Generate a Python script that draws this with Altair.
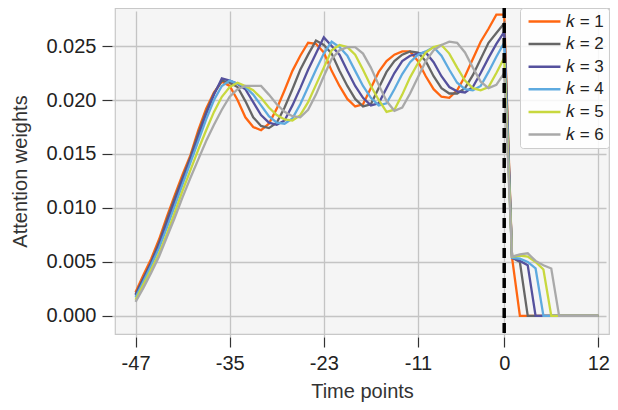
import altair as alt
import pandas as pd

# time points
t_vals = list(range(-47, 13))
tick_x = [-47, -35, -23, -11, 0, 12]
tick_y = [0.000, 0.005, 0.010, 0.015, 0.020, 0.025]
labels = ["𝑘 = 1", "𝑘 = 2", "𝑘 = 3", "𝑘 = 4", "𝑘 = 5", "𝑘 = 6"]
colors = ["#ff6611", "#666666", "#55519d", "#5eaadf", "#c8d83e", "#a9a9a9"]

k1 = [.0022, .0038, .0053, .0071, .0092, .0112, .0131, .0149, .0172, .0192,
      .0207, .0217, .0213, .0200, .0184, .0175, .0172, .0178, .0192, .0209,
      .0227, .0241, .0253, .0252, .0244, .0227, .0213, .0201, .0194, .0196,
      .0211, .0226, .0236, .0242, .0245, .0245, .0236, .0222, .0210, .0203,
      .0202, .0209, .0222, .0238, .0254, .0266, .0279, .0279,
      .0054, 0, 0, 0, 0, 0, 0, 0, 0, 0, 0, 0]
k2 = [.0020, .0035, .0050, .0068, .0089, .0109, .0128, .0147, .0169, .0189,
      .0206, .0218, .0216, .0212, .0199, .0184, .0176, .0174, .0179, .0193,
      .0210, .0228, .0242, .0255, .0251, .0243, .0227, .0213, .0201, .0194,
      .0196, .0211, .0226, .0236, .0242, .0245, .0244, .0236, .0222, .0211,
      .0206, .0206, .0211, .0223, .0238, .0253, .0262, .0271,
      .0054, .0050, 0, 0, 0, 0, 0, 0, 0, 0, 0, 0]
k3 = [.0019, .0034, .0049, .0066, .0086, .0106, .0126, .0145, .0166, .0187,
      .0205, .0220, .0218, .0215, .0210, .0198, .0186, .0179, .0177, .0181,
      .0195, .0211, .0228, .0243, .0258, .0250, .0242, .0227, .0213, .0202,
      .0195, .0197, .0211, .0225, .0236, .0241, .0243, .0244, .0235, .0222,
      .0212, .0208, .0207, .0212, .0225, .0239, .0252, .0263,
      .0054, .0051, .0047, 0, 0, 0, 0, 0, 0, 0, 0, 0]
k4 = [.0017, .0032, .0047, .0063, .0082, .0102, .0122, .0142, .0162, .0182,
      .0200, .0213, .0218, .0215, .0212, .0205, .0195, .0185, .0179, .0178,
      .0183, .0196, .0212, .0228, .0243, .0254, .0249, .0241, .0227, .0213,
      .0202, .0195, .0197, .0210, .0224, .0235, .0242, .0245, .0249, .0241,
      .0228, .0216, .0210, .0209, .0213, .0226, .0240, .0253,
      .0054, .0053, .0050, .0044, 0, 0, 0, 0, 0, 0, 0, 0]
k5 = [.0015, .0029, .0043, .0058, .0076, .0096, .0116, .0135, .0154, .0172,
      .0189, .0203, .0212, .0216, .0213, .0209, .0202, .0193, .0186, .0182,
      .0181, .0186, .0198, .0214, .0230, .0246, .0251, .0249, .0242, .0228,
      .0213, .0200, .0189, .0191, .0205, .0221, .0234, .0244, .0249, .0251,
      .0243, .0230, .0218, .0211, .0209, .0212, .0225, .0239,
      .0055, .0056, .0055, .0050, .0043, 0, 0, 0, 0, 0, 0, 0]
k6 = [.0013, .0026, .0040, .0055, .0073, .0091, .0110, .0128, .0145, .0162,
      .0177, .0191, .0203, .0210, .0213, .0213, .0213, .0205, .0196, .0189,
      .0185, .0184, .0191, .0205, .0222, .0238, .0246, .0249, .0249, .0243,
      .0230, .0214, .0199, .0190, .0193, .0206, .0221, .0236, .0246, .0251,
      .0254, .0253, .0244, .0230, .0217, .0211, .0214, .0225,
      .0055, .0057, .0058, .0051, .0047, .0044, 0, 0, 0, 0, 0, 0]

series = [k1, k2, k3, k4, k5, k6]
rows = []
for lab, vals in zip(labels, series):
    for t, v in zip(t_vals, vals):
        rows.append({"t": t, "w": v, "k": lab})
df = pd.DataFrame(rows)

FONT = "Liberation Sans"

xscale = alt.Scale(domain=[-49.62, 13.36], nice=False, zero=False)
yscale = alt.Scale(domain=[-0.00167, 0.02852], nice=False, zero=False)

lines = alt.Chart(df).mark_line(strokeWidth=2.3, clip=True).encode(
    x=alt.X("t:Q", scale=xscale,
            axis=alt.Axis(values=tick_x, title="Time points",
                          labelExpr="datum.value + ''")),
    y=alt.Y("w:Q", scale=yscale,
            axis=alt.Axis(values=tick_y, format=".3f", title="Attention weights")),
    color=alt.Color("k:N", scale=alt.Scale(domain=labels, range=colors),
                    legend=alt.Legend(title=None, orient="none", legendX=405, legendY=0,
                                      symbolType="M-0.9,0L4.9,0", symbolSize=121,
                                      symbolStrokeWidth=2.5, symbolFillColor="transparent",
                                      labelFontSize=17,
                                      labelFont=FONT, labelColor="#222222",
                                      labelOffset=24, rowPadding=4.6,
                                      padding=5, fillColor="rgba(255,255,255,0.85)",
                                      strokeColor="#cccccc", cornerRadius=3)),
)

vline = alt.Chart(pd.DataFrame({"t": [0]})).mark_rule(
    color="black", strokeWidth=3.5, strokeDash=[10, 5]
).encode(x=alt.X("t:Q", scale=xscale))

chart = alt.layer(lines, vline).properties(
    width=494, height=326,
    autosize=alt.AutoSizeParams(type="none"),
    padding={"left": 107, "top": 0, "right": 1, "bottom": 68},
).configure_view(
    fill="#f5f5f5", stroke="#c8c8c8", strokeWidth=1.2
).configure_axis(
    domain=False, grid=True, gridColor="#c4c4c4", gridWidth=1.3,
    tickColor="#333333", tickSize=10, tickWidth=1.2, offset=3,
    labelFont=FONT, labelFontSize=20, labelColor="#222222", labelPadding=6,
    titleFont=FONT, titleFontSize=20, titleColor="#333333", titleFontWeight="normal",
).configure_axisY(titlePadding=15).configure_axisX(titlePadding=8)

chart.save("out.html", embed_options={"renderer": "svg", "actions": False})
